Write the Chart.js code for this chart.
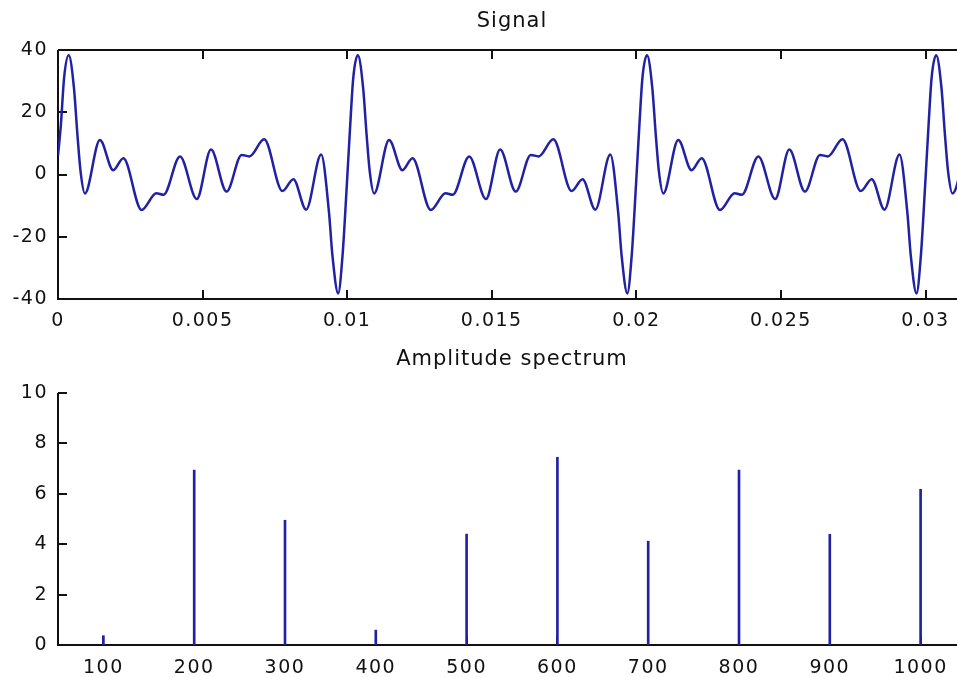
<!DOCTYPE html>
<html>
<head>
<meta charset="utf-8">
<script src="https://cdn.jsdelivr.net/npm/chart.js@4"></script>
<style>
html, body { margin:0; padding:0; background:#fff; overflow:hidden; width:957px; height:677px; }
#signal { position:absolute; left:0; top:0; }
#spectrum { position:absolute; left:0; top:340px; }
</style>
</head>
<body>
<canvas id="signal" width="967" height="340"></canvas>
<canvas id="spectrum" width="967" height="337"></canvas>
<script>
// signal (time in s, amplitude)
var signal_t = [
    0, 0.0001, 0.00021, 0.00037, 0.00055, 0.00067, 0.00078, 0.00093, 0.00145, 0.00191,
    0.00226, 0.00289, 0.0034, 0.00365, 0.00422, 0.0048, 0.00529, 0.00583, 0.00635, 0.00662,
    0.00713, 0.00776, 0.00814, 0.00858, 0.0091, 0.00937, 0.00949, 0.00969, 0.00984, 0.00999,
    0.0101, 0.01021, 0.01037, 0.01055, 0.01067, 0.01078, 0.01093, 0.01145, 0.01191,
    0.01226, 0.01289, 0.0134, 0.01365, 0.01422, 0.0148, 0.01529, 0.01583, 0.01635, 0.01662,
    0.01713, 0.01776, 0.01814, 0.01858, 0.0191, 0.01937, 0.01949, 0.01969, 0.01984, 0.01999,
    0.0201, 0.02021, 0.02037, 0.02055, 0.02067, 0.02078, 0.02093, 0.02145, 0.02191,
    0.02226, 0.02289, 0.0234, 0.02365, 0.02422, 0.0248, 0.02529, 0.02583, 0.02635, 0.02662,
    0.02713, 0.02776, 0.02814, 0.02858, 0.0291, 0.02937, 0.02949, 0.02969, 0.02984, 0.02999,
    0.0301, 0.03021, 0.03037, 0.03055, 0.03067, 0.03078, 0.03093, 0.03145
];
var signal_v = [
    6, 16, 31, 38.3, 28, 13, 1, -6.1, 11.1, 1.4,
    5.2, -11.4, -6.0, -6.5, 5.8, -7.9, 8.0, -5.5, 6.3, 5.8,
    11.3, -5.3, -1.5, -11.3, 6.4, -12, -26, -38.2, -26, -3,
    15, 31, 38.3, 28, 13, 1, -6.1, 11.1, 1.4,
    5.2, -11.4, -6.0, -6.5, 5.8, -7.9, 8.0, -5.5, 6.3, 5.8,
    11.3, -5.3, -1.5, -11.3, 6.4, -12, -26, -38.2, -26, -3,
    15, 31, 38.3, 28, 13, 1, -6.1, 11.1, 1.4,
    5.2, -11.4, -6.0, -6.5, 5.8, -7.9, 8.0, -5.5, 6.3, 5.8,
    11.3, -5.3, -1.5, -11.3, 6.4, -12, -26, -38.2, -26, -3,
    15, 31, 38.3, 28, 13, 1, -6.1, 11.1
];
var signal_xticks = [0, 0.005, 0.01, 0.015, 0.02, 0.025, 0.03];
var signal_yticks = [-40, -20, 0, 20, 40];

// amplitude spectrum
var freq = [100, 200, 300, 400, 500, 600, 700, 800, 900, 1000];
var amp = [0.37, 6.94, 4.95, 0.59, 4.4, 7.45, 4.12, 6.94, 4.39, 6.18];
var spec_xticks = [100, 200, 300, 400, 500, 600, 700, 800, 900, 1000];
var spec_yticks = [0, 2, 4, 6, 8, 10];

var line_color = '#2121a3';
var tick_font = {family: 'DejaVu Sans', size: 19};

var frame_plugin = {
    id: 'frame',
    beforeDraw: function(chart){
        // the reference font is wide, spread the letters a bit
        chart.ctx.letterSpacing = '1.5px';
    },
    beforeDatasetsDraw: function(chart, args, opts){
        var ctx = chart.ctx;
        var area = chart.chartArea;
        var xs = chart.scales.x, ys = chart.scales.y;
        var tl = 9;
        ctx.save();
        ctx.strokeStyle = '#111';
        ctx.lineWidth = 2;
        ctx.beginPath();
        ctx.moveTo(area.left, area.top);
        ctx.lineTo(area.left, area.bottom);
        ctx.lineTo(area.right, area.bottom);
        if(opts.box){
            ctx.lineTo(area.right, area.top);
            ctx.lineTo(area.left, area.top);
        }
        xs.ticks.forEach(function(t){
            var px = Math.round(xs.getPixelForValue(t.value));
            ctx.moveTo(px, area.bottom);
            ctx.lineTo(px, area.bottom - tl);
            if(opts.box){
                ctx.moveTo(px, area.top);
                ctx.lineTo(px, area.top + tl);
            }
        });
        ys.ticks.forEach(function(t){
            var py = Math.round(ys.getPixelForValue(t.value));
            ctx.moveTo(area.left, py);
            ctx.lineTo(area.left + tl, py);
        });
        ctx.stroke();
        ctx.fillStyle = '#111';
        ctx.font = '21px "DejaVu Sans"';
        ctx.letterSpacing = '1px';
        ctx.textAlign = 'center';
        ctx.textBaseline = 'middle';
        ctx.fillText(opts.title, (area.left + area.right) / 2, opts.title_y);
        ctx.restore();
    }
};

function fmt(v){
    return String(+(+v).toFixed(4));
}

var signal_points = [];
for(var i = 0; i < signal_t.length; i++){
    signal_points.push({x: signal_t[i], y: signal_v[i]});
}

new Chart(document.getElementById('signal'), {
    type: 'line',
    data: {
        datasets: [{
            data: signal_points,
            borderColor: line_color,
            borderWidth: 2.5,
            pointRadius: 0,
            cubicInterpolationMode: 'monotone',
            fill: false
        }]
    },
    plugins: [frame_plugin],
    options: {
        responsive: false,
        animation: false,
        layout: {padding: {top: 50, right: 1, left: 0, bottom: 0}},
        plugins: {
            legend: {display: false},
            tooltip: {enabled: false},
            frame: {box: true, title: 'Signal', title_y: 22}
        },
        scales: {
            x: {
                type: 'linear',
                min: 0,
                max: 0.0314,
                grid: {display: false, drawTicks: false},
                border: {display: false},
                afterBuildTicks: function(s){ s.ticks = signal_xticks.map(function(v){ return {value: v}; }); },
                afterFit: function(s){ s.height = 41; },
                ticks: {font: tick_font, color: '#111', padding: 11, maxRotation: 0, autoSkip: false,
                    callback: function(v){ return fmt(v); }}
            },
            y: {
                min: -40,
                max: 40,
                grid: {display: false, drawTicks: false},
                border: {display: false},
                afterBuildTicks: function(s){ s.ticks = signal_yticks.map(function(v){ return {value: v}; }); },
                afterFit: function(s){ s.width = 58; },
                ticks: {font: tick_font, color: '#111', padding: 10,
                    callback: function(v){ return fmt(v); }}
            }
        }
    }
});

var spec_points = [];
for(var j = 0; j < freq.length; j++){
    spec_points.push({x: freq[j], y: amp[j]});
}

new Chart(document.getElementById('spectrum'), {
    type: 'bar',
    data: {
        datasets: [{
            data: spec_points,
            backgroundColor: line_color,
            borderWidth: 0,
            barThickness: 2
        }]
    },
    plugins: [frame_plugin],
    options: {
        responsive: false,
        animation: false,
        layout: {padding: {top: 53, right: 1, left: 0, bottom: 0}},
        plugins: {
            legend: {display: false},
            tooltip: {enabled: false},
            frame: {box: false, title: 'Amplitude spectrum', title_y: 20}
        },
        scales: {
            x: {
                type: 'linear',
                offset: false,
                min: 50,
                max: 1050,
                grid: {display: false, drawTicks: false},
                border: {display: false},
                afterBuildTicks: function(s){ s.ticks = spec_xticks.map(function(v){ return {value: v}; }); },
                afterFit: function(s){ s.height = 32; },
                ticks: {font: tick_font, color: '#111', padding: 12, maxRotation: 0, autoSkip: false,
                    callback: function(v){ return fmt(v); }}
            },
            y: {
                min: 0,
                max: 10,
                grid: {display: false, drawTicks: false},
                border: {display: false},
                afterBuildTicks: function(s){ s.ticks = spec_yticks.map(function(v){ return {value: v}; }); },
                afterFit: function(s){ s.width = 58; },
                ticks: {font: tick_font, color: '#111', padding: 10,
                    callback: function(v){ return fmt(v); }}
            }
        }
    }
});
</script>
</body>
</html>
